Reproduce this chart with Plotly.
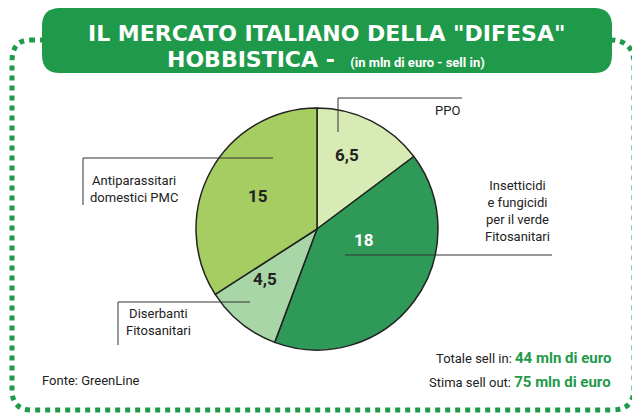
import plotly.graph_objects as go

labels = ["PPO", "Insetticidi e fungicidi", "Diserbanti", "Antiparassitari"]
values = [6.5, 18, 4.5, 15]
value_text = ["6,5", "18", "4,5", "15"]
colors = ["#d8ebb5", "#2f9a58", "#a9d6a6", "#a6cd62"]

W, H = 640, 420
OFF = 8
def px(x): return (x - OFF) / W
def py(y): return 1 - (y - OFF) / H

cx, cy, R = 317, 229, 121
fig = go.Figure(go.Pie(
    labels=labels, values=values, sort=False, direction="clockwise", rotation=0,
    marker=dict(colors=colors, line=dict(color="#222222", width=1.5)),
    textinfo="none", hoverinfo="label+value", showlegend=False,
    domain=dict(x=[px(cx - R), px(cx + R)], y=[py(cy + R), py(cy - R)]),
))

G = "#1f9a4a"
shapes = []
shapes.append(dict(type="path", path=f"M {px(30)},{py(40)} L {px(610)},{py(40)} Q {px(634)},{py(40)} {px(634)},{py(64)} L {px(634)},{py(388)} Q {px(634)},{py(410)} {px(612)},{py(410)} L {px(32)},{py(410)} Q {px(12)},{py(410)} {px(12)},{py(390)} L {px(12)},{py(62)} Q {px(12)},{py(40)} {px(30)},{py(40)} Z",
                   xref="paper", yref="paper", line=dict(color=G, width=5, dash="dot")))
r = 18
x0, x1, y0, y1 = 42, 612, 8, 73
shapes.append(dict(type="path", path=f"M {px(x0+r)},{py(y0)} L {px(x1-r)},{py(y0)} Q {px(x1)},{py(y0)} {px(x1)},{py(y0+r)} L {px(x1)},{py(y1-r)} Q {px(x1)},{py(y1)} {px(x1-r)},{py(y1)} L {px(x0+r)},{py(y1)} Q {px(x0)},{py(y1)} {px(x0)},{py(y1-r)} L {px(x0)},{py(y0+r)} Q {px(x0)},{py(y0)} {px(x0+r)},{py(y0)} Z",
                   xref="paper", yref="paper", fillcolor=G, line=dict(width=0)))
def line(xa, ya, xb, yb):
    shapes.append(dict(type="line", xref="paper", yref="paper", x0=px(xa), y0=py(ya), x1=px(xb), y1=py(yb), line=dict(color="#333", width=1)))
line(338, 132, 338, 98); line(338, 98, 462, 98)
line(345, 255, 552, 255)
line(83, 158, 273, 158); line(83, 158, 83, 205)
line(118, 302, 250, 302); line(118, 302, 118, 345)

ann = []
FN = "Roboto"
def t(x, y, s, size=13, color="#222", bold=False, xa="center", font=FN):
    ann.append(dict(x=px(x), y=py(y), xref="paper", yref="paper", text=f"<b>{s}</b>" if bold else s,
                    showarrow=False, xanchor=xa, font=dict(size=size, color=color, family=font)))
t(326, 19, 'IL MERCATO ITALIANO DELLA "DIFESA"', 22, "white", True, font="DejaVu Sans")
t(326, 45, 'HOBBISTICA -  <span style="font-size:13px;font-family:Roboto">(in mln di euro - sell in)</span>', 22, "white", True, font="DejaVu Sans")
t(347, 155, value_text[0], 17, "#222", True)
t(364, 240, value_text[1], 17, "white", True)
t(265, 291, value_text[2], 17, "#222", True)
t(258, 196, value_text[3], 17, "#222", True)
t(462, 101, "PPO", 13, xa="right")
t(552, 211, "Insetticidi<br>e fungicidi<br>per il verde<br>Fitosanitari", 13, xa="right")
t(88, 189, "Antiparassitari<br>domestici PMC", 13, xa="left")
t(124, 340, "Diserbanti<br>Fitosanitari", 13, xa="left")
t(40, 390, "Fonte: GreenLine", 13, xa="left")
t(613, 369, 'Totale sell in: <span style="color:#1f9a4a;font-size:15px"><b>44 mln di euro</b></span>', 13, xa="right")
t(613, 393, 'Stima sell out: <span style="color:#1f9a4a;font-size:15px"><b>75 mln di euro</b></span>', 13, xa="right")

fig.update_layout(width=W, height=H, margin=dict(l=0, r=0, t=0, b=0),
                  paper_bgcolor="white", plot_bgcolor="white", shapes=shapes, annotations=ann)
fig.write_html("out.html")
